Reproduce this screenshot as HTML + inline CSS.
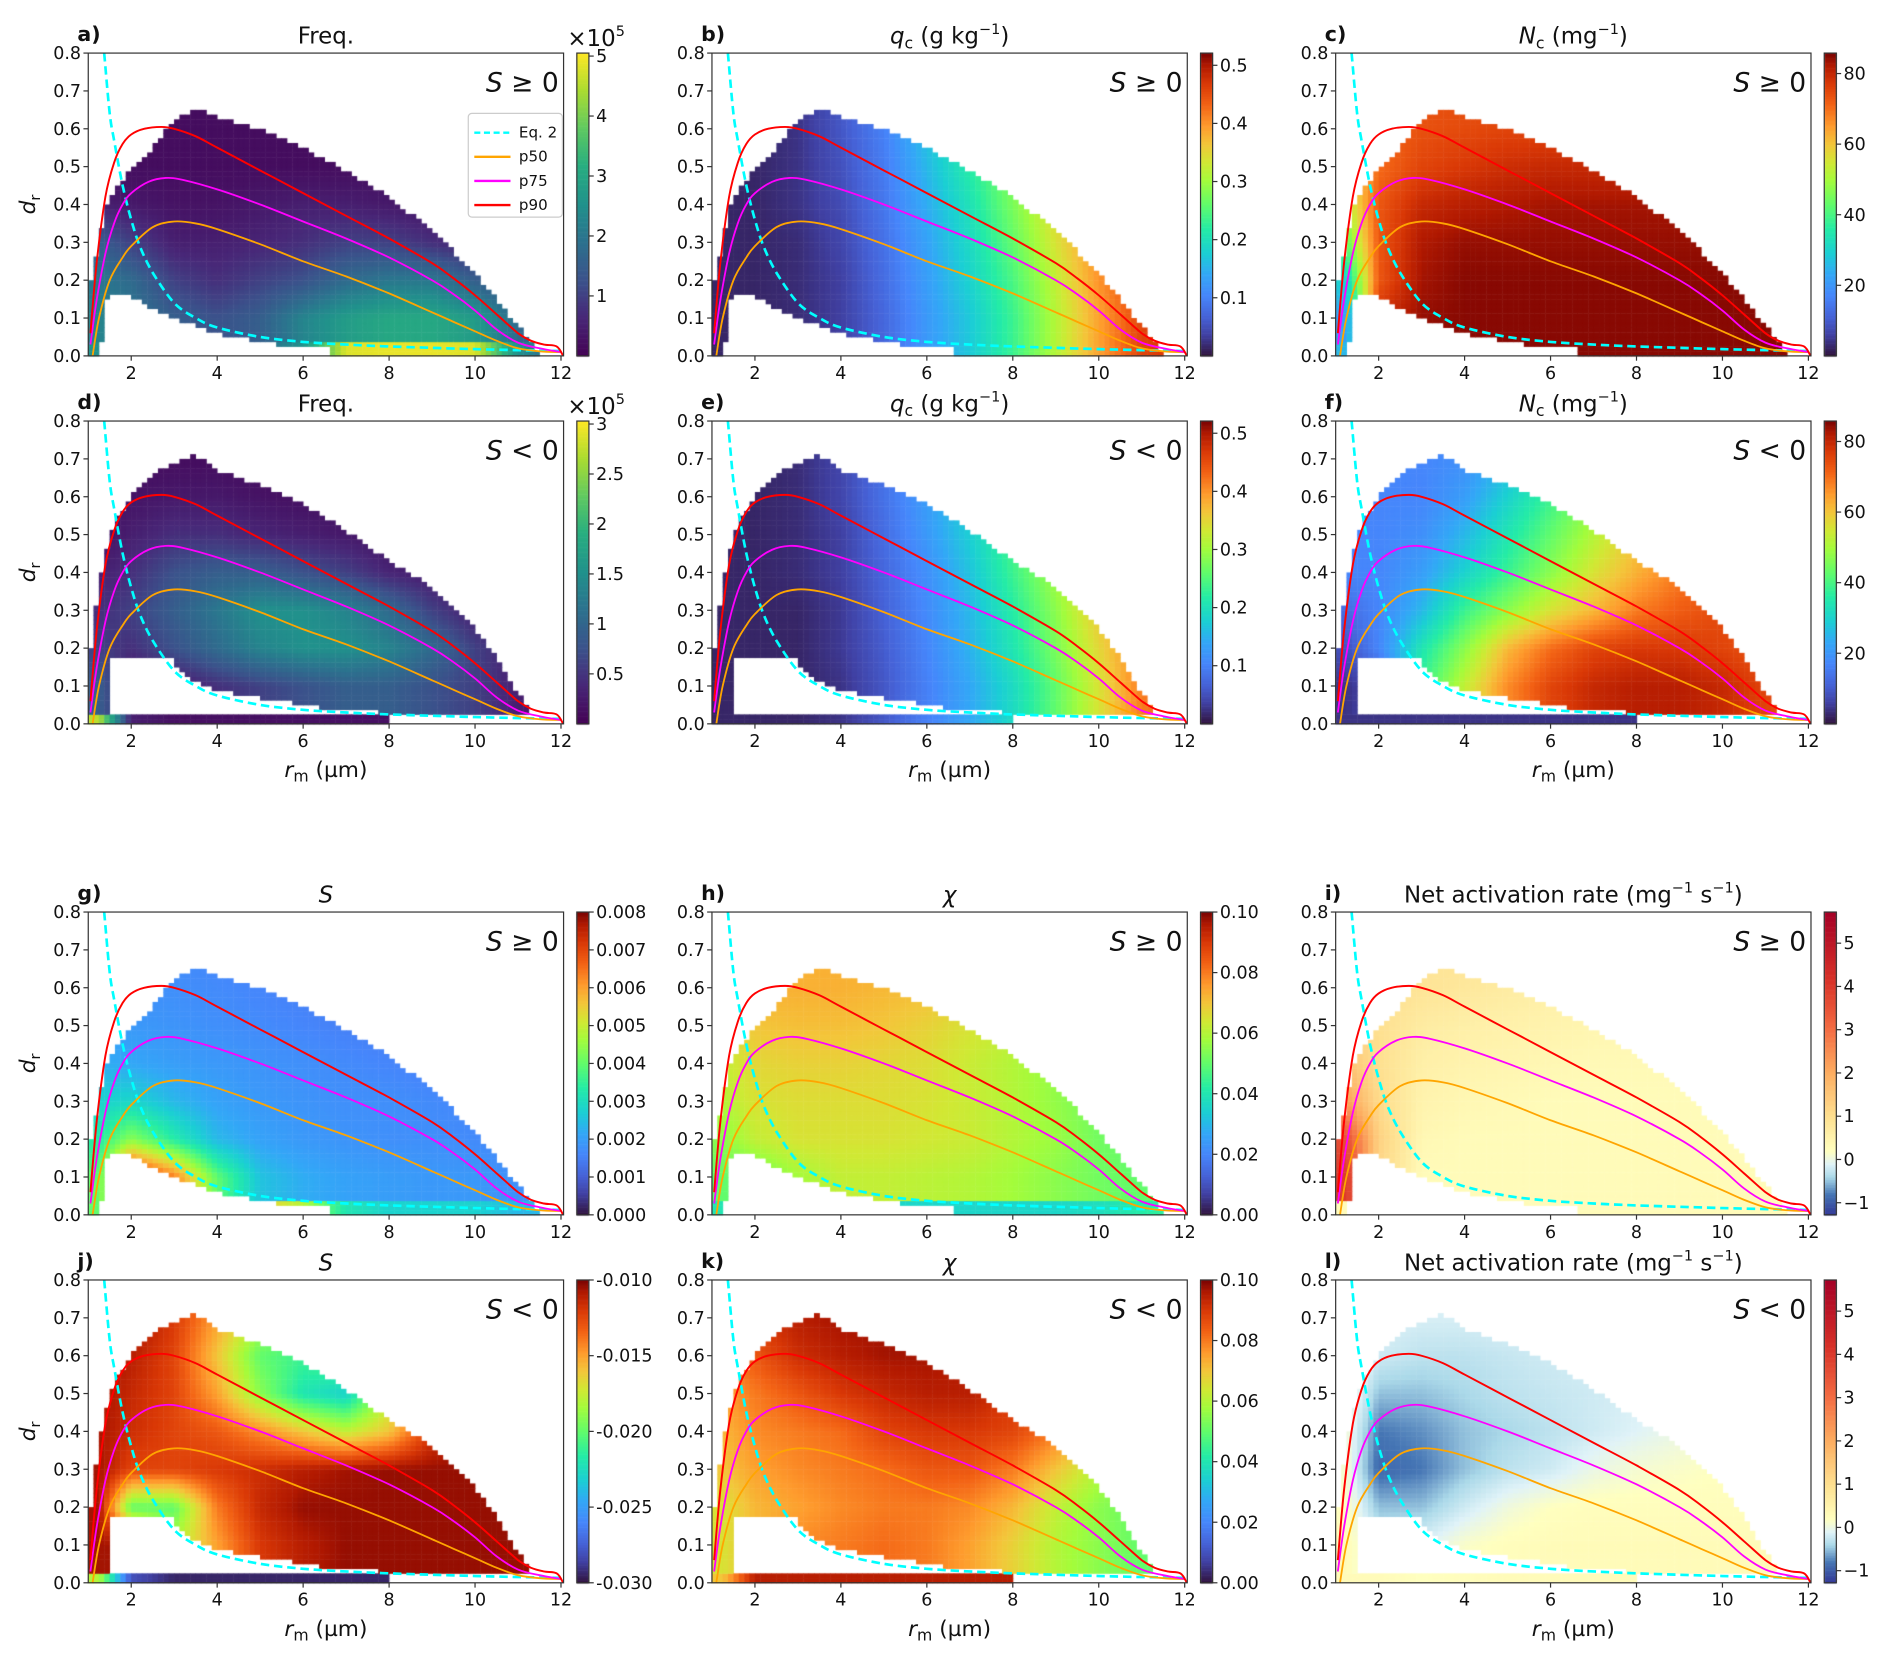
<!DOCTYPE html>
<html><head><meta charset="utf-8">
<style>
html,body{margin:0;padding:0;background:#fff;}
#wrap{position:relative;width:1892px;height:1660px;overflow:hidden;}
#heat{position:absolute;left:0;top:0;}
#fig{position:absolute;left:0;top:0;}
text{font-family:"DejaVu Sans","Liberation Sans",sans-serif;fill:#111;}
</style></head>
<body>
<div id="wrap">
<canvas id="heat" width="1892" height="1660"></canvas>
<svg id="fig" width="1892" height="1660" viewBox="0 0 1568 1376" xmlns="http://www.w3.org/2000/svg"></svg>
</div>
<script>
// ---------- data ----------
const gridX=[1.25,2,3,4,5,6,7,8,9,10,11,12];
const gridY=[0.02,0.1,0.2,0.3,0.4,0.5,0.6,0.7];
const xTicks=[2,4,6,8,10,12];
const yTicks=[0,0.1,0.2,0.3,0.4,0.5,0.6,0.7,0.8];
// domain shapes
const domPosX=[1.0,1.1,1.25,1.35,1.5,1.7,2,2.5,3,3.5,4,5,6,7,8,9,10,10.5,11,11.4,11.6];
const domPosHi=[0.2,0.21,0.3,0.37,0.42,0.45,0.49,0.55,0.62,0.655,0.63,0.6,0.55,0.49,0.42,0.33,0.22,0.15,0.08,0.02,0.0];
const domPosLoX=[1.0,1.3,1.35,1.5,2,2.3,2.6,3,3.5,4,4.5,5,5.5,6,6.6,6.7,12];
const domPosLo=[0,0,0.14,0.16,0.16,0.14,0.12,0.1,0.08,0.06,0.05,0.04,0.03,0.02,0.02,0,0];
const domNegX=[1.0,1.2,1.4,1.6,2,2.5,3,3.5,4,5,6,7,8,9,10,10.5,11,11.4,11.6];
const domNegHi=[0.15,0.33,0.45,0.53,0.6,0.66,0.69,0.71,0.67,0.63,0.58,0.51,0.43,0.36,0.25,0.18,0.08,0.01,0];
const domNegLoX=[1.0,1.44,1.45,2.9,3,3.5,4,5,6,7,8,9,10,11,12];
const domNegLo=[0,0,0.18,0.18,0.16,0.11,0.09,0.07,0.05,0.035,0.03,0.025,0.02,0.02,0.02];
const stripNeg=[1.0,8.0];
// percentile curves
const p90X=[1.05,1.2,1.4,1.6,1.8,2,2.3,2.7,3,3.5,4,5,6,7,8,9,9.5,10,10.5,11,11.3,11.6,11.9,12.05];
const p90Y=[0.06,0.25,0.42,0.51,0.56,0.585,0.6,0.605,0.6,0.58,0.55,0.49,0.43,0.37,0.31,0.245,0.205,0.16,0.11,0.06,0.04,0.03,0.025,0.0];
const p75X=[1.05,1.2,1.4,1.6,1.8,2,2.4,2.8,3.2,4,5,6,7,8,9,9.5,10,10.5,11,11.5,12];
const p75Y=[0.03,0.15,0.27,0.35,0.4,0.43,0.46,0.47,0.465,0.44,0.4,0.355,0.31,0.26,0.2,0.163,0.12,0.07,0.035,0.02,0.01];
const p50X=[1.1,1.25,1.5,1.8,2,2.5,3,3.5,4,5,6,7,8,9,9.5,10,10.5,11,11.5,12];
const p50Y=[0,0.1,0.2,0.26,0.29,0.34,0.355,0.35,0.335,0.295,0.25,0.21,0.165,0.115,0.09,0.065,0.04,0.02,0.012,0.01];
const eq2X=[1.37,1.5,1.6,1.8,2,2.2,2.5,3,3.5,4,5,6,7,8,10,12];
const eq2Y=[0.8,0.64,0.57,0.45,0.36,0.29,0.22,0.14,0.1,0.075,0.05,0.037,0.03,0.025,0.018,0.013];
// panel value grids (row0 = bottom strip, rows 1..7 at gridY)
const valA=[[0.5,0.4,0.35,0.3,0.35,0.5,0.95,0.97,0.97,0.95,0.5,0.3],[0.45,0.4,0.3,0.25,0.3,0.45,0.55,0.6,0.6,0.55,0.35,0.2],[0.4,0.35,0.2,0.15,0.2,0.25,0.35,0.4,0.4,0.3,0.2,0.1],[0.3,0.2,0.1,0.1,0.12,0.15,0.2,0.2,0.15,0.1,0.1,0.1],[0.1,0.08,0.06,0.06,0.08,0.1,0.1,0.08,0.06,0.05,0.05,0.05],[0.04,0.04,0.04,0.04,0.04,0.04,0.04,0.04,0.04,0.04,0.04,0.04],[0.04,0.04,0.04,0.04,0.04,0.04,0.04,0.04,0.04,0.04,0.04,0.04],[0.04,0.04,0.04,0.04,0.04,0.04,0.04,0.04,0.04,0.04,0.04,0.04]];
const valD=[[0.9,0.1,0.05,0.05,0.05,0.05,0.05,0.05,0.05,0.05,0.05,0.05],[0.3,0.05,0.08,0.15,0.2,0.25,0.3,0.3,0.25,0.2,0.1,0.05],[0.2,0.15,0.25,0.35,0.45,0.5,0.5,0.45,0.35,0.2,0.1,0.05],[0.15,0.2,0.3,0.4,0.5,0.5,0.45,0.35,0.2,0.1,0.05,0.05],[0.1,0.15,0.25,0.3,0.3,0.25,0.2,0.12,0.08,0.05,0.05,0.05],[0.05,0.1,0.15,0.15,0.12,0.1,0.08,0.05,0.05,0.05,0.05,0.05],[0.05,0.06,0.08,0.08,0.06,0.05,0.05,0.05,0.05,0.05,0.05,0.05],[0.04,0.04,0.04,0.04,0.04,0.04,0.04,0.04,0.04,0.04,0.04,0.04]];
const valB=[[0.03,0.03,0.04,0.07,0.14,0.24,0.33,0.45,0.6,0.75,0.88,0.92],[0.03,0.03,0.04,0.07,0.14,0.24,0.33,0.45,0.6,0.75,0.88,0.92],[0.03,0.03,0.04,0.07,0.15,0.25,0.35,0.47,0.62,0.77,0.88,0.92],[0.03,0.03,0.04,0.08,0.16,0.26,0.37,0.5,0.65,0.78,0.88,0.92],[0.03,0.03,0.05,0.09,0.17,0.28,0.39,0.53,0.67,0.8,0.88,0.92],[0.03,0.03,0.05,0.1,0.18,0.3,0.42,0.55,0.7,0.8,0.88,0.92],[0.03,0.03,0.05,0.11,0.19,0.32,0.44,0.58,0.7,0.8,0.88,0.92],[0.03,0.03,0.05,0.11,0.2,0.32,0.44,0.58,0.7,0.8,0.88,0.92]];
const valE=[[0.03,0.03,0.03,0.05,0.11,0.19,0.27,0.37,0.5,0.65,0.8,0.85],[0.03,0.03,0.03,0.05,0.11,0.19,0.27,0.37,0.5,0.65,0.8,0.85],[0.03,0.03,0.03,0.06,0.12,0.2,0.29,0.4,0.53,0.67,0.8,0.85],[0.03,0.03,0.03,0.06,0.13,0.21,0.3,0.42,0.55,0.7,0.8,0.85],[0.03,0.03,0.04,0.07,0.14,0.22,0.32,0.45,0.58,0.7,0.8,0.85],[0.03,0.03,0.04,0.07,0.15,0.24,0.34,0.47,0.6,0.7,0.8,0.85],[0.03,0.03,0.04,0.08,0.16,0.25,0.35,0.48,0.6,0.7,0.8,0.85],[0.03,0.03,0.04,0.08,0.16,0.25,0.35,0.48,0.6,0.7,0.8,0.85]];
const valC=[[0.3,0.98,0.99,0.99,0.99,0.99,0.99,0.99,0.99,0.99,0.99,0.99],[0.25,0.92,0.98,0.99,0.99,0.99,0.99,0.99,0.99,0.99,0.99,0.99],[0.35,0.85,0.97,0.99,0.99,0.99,0.99,0.99,0.99,0.99,0.99,0.99],[0.5,0.85,0.96,0.98,0.98,0.98,0.98,0.98,0.98,0.98,0.98,0.98],[0.6,0.85,0.93,0.95,0.96,0.97,0.97,0.97,0.97,0.97,0.97,0.97],[0.65,0.82,0.88,0.9,0.92,0.93,0.93,0.93,0.93,0.93,0.93,0.93],[0.8,0.82,0.86,0.87,0.88,0.88,0.88,0.88,0.88,0.88,0.88,0.88],[0.85,0.86,0.86,0.86,0.86,0.86,0.86,0.86,0.86,0.86,0.86,0.86]];
const valF=[[0.05,0.05,0.05,0.05,0.05,0.05,0.05,0.05,0.95,0.93,0.9,0.85],[0.05,0.1,0.45,0.62,0.78,0.88,0.93,0.95,0.95,0.93,0.88,0.85],[0.1,0.2,0.4,0.55,0.72,0.82,0.88,0.9,0.9,0.88,0.85,0.85],[0.15,0.2,0.3,0.45,0.55,0.65,0.72,0.8,0.84,0.87,0.85,0.85],[0.2,0.2,0.25,0.35,0.45,0.55,0.65,0.73,0.8,0.82,0.82,0.82],[0.2,0.2,0.22,0.3,0.4,0.5,0.6,0.7,0.75,0.8,0.8,0.8],[0.2,0.2,0.2,0.25,0.35,0.45,0.55,0.65,0.7,0.75,0.8,0.8],[0.2,0.2,0.2,0.22,0.3,0.4,0.5,0.6,0.7,0.75,0.8,0.8]];
const valG=[[0.5,0.9,0.95,0.8,0.7,0.6,0.4,0.35,0.35,0.35,0.3,0.3],[0.5,0.97,0.8,0.5,0.32,0.28,0.26,0.25,0.24,0.24,0.22,0.22],[0.42,0.55,0.42,0.3,0.26,0.24,0.23,0.22,0.22,0.21,0.2,0.2],[0.35,0.36,0.3,0.26,0.24,0.23,0.22,0.22,0.21,0.2,0.19,0.19],[0.28,0.27,0.25,0.24,0.23,0.22,0.21,0.2,0.19,0.18,0.18,0.18],[0.25,0.24,0.23,0.22,0.21,0.2,0.19,0.18,0.18,0.18,0.18,0.18],[0.23,0.22,0.22,0.21,0.2,0.19,0.18,0.18,0.18,0.18,0.18,0.18],[0.22,0.22,0.21,0.2,0.19,0.18,0.18,0.18,0.18,0.18,0.18,0.18]];
const valH=[[0.4,0.42,0.4,0.38,0.36,0.36,0.36,0.36,0.36,0.38,0.42,0.45],[0.5,0.5,0.58,0.62,0.62,0.61,0.6,0.58,0.55,0.52,0.5,0.5],[0.55,0.62,0.65,0.65,0.65,0.64,0.63,0.6,0.57,0.52,0.5,0.5],[0.6,0.65,0.66,0.66,0.66,0.65,0.63,0.6,0.56,0.52,0.5,0.5],[0.62,0.67,0.68,0.68,0.67,0.66,0.63,0.6,0.56,0.52,0.5,0.5],[0.66,0.7,0.71,0.71,0.7,0.68,0.65,0.62,0.58,0.55,0.5,0.5],[0.72,0.73,0.73,0.73,0.72,0.71,0.69,0.66,0.6,0.55,0.5,0.5],[0.73,0.73,0.73,0.73,0.73,0.72,0.7,0.68,0.6,0.55,0.5,0.5]];
const valI=[[0.3,0.3,0.3,0.3,0.3,0.3,0.3,0.3,0.3,0.3,0.3,0.3],[4,1.2,0.3,0.3,0.3,0.3,0.3,0.3,0.3,0.3,0.3,0.3],[3.6,1.3,0.4,0.3,0.3,0.3,0.3,0.3,0.3,0.3,0.3,0.3],[2.2,1.1,0.5,0.4,0.35,0.3,0.3,0.3,0.3,0.3,0.3,0.3],[1.6,1.0,0.6,0.5,0.45,0.4,0.35,0.35,0.35,0.3,0.3,0.3],[1.3,1.0,0.7,0.6,0.55,0.5,0.45,0.4,0.4,0.4,0.4,0.4],[1.2,1.0,0.9,0.8,0.7,0.6,0.55,0.5,0.5,0.5,0.5,0.5],[1.2,1.0,0.9,0.9,0.8,0.7,0.6,0.5,0.5,0.5,0.5,0.5]];
const valJ=[[0.6,0.1,0.03,0.03,0.03,0.03,0.03,0.03,0.1,0.5,0.9,0.9],[0.97,0.97,0.6,0.75,0.9,0.95,0.98,0.98,0.98,0.98,0.98,0.98],[0.97,0.5,0.5,0.8,0.93,0.98,0.98,0.98,0.98,0.98,0.98,0.98],[0.97,0.88,0.88,0.9,0.92,0.95,0.97,0.98,0.98,0.98,0.98,0.98],[0.97,0.92,0.88,0.85,0.78,0.7,0.62,0.7,0.9,0.97,0.97,0.97],[0.97,0.93,0.88,0.75,0.55,0.4,0.35,0.6,0.9,0.97,0.97,0.97],[0.98,0.95,0.88,0.7,0.5,0.45,0.5,0.7,0.9,0.97,0.97,0.97],[0.98,0.98,0.9,0.75,0.6,0.6,0.65,0.75,0.9,0.97,0.97,0.97]];
const valK=[[0.7,0.95,0.95,0.95,0.95,0.95,0.95,0.95,0.5,0.55,0.8,0.6],[0.65,0.72,0.78,0.8,0.82,0.8,0.75,0.68,0.6,0.55,0.5,0.5],[0.65,0.72,0.75,0.78,0.8,0.8,0.78,0.72,0.62,0.55,0.5,0.5],[0.7,0.75,0.78,0.8,0.82,0.85,0.85,0.8,0.7,0.6,0.55,0.55],[0.72,0.78,0.8,0.82,0.88,0.9,0.9,0.88,0.8,0.7,0.6,0.6],[0.75,0.8,0.85,0.9,0.93,0.95,0.95,0.9,0.85,0.75,0.7,0.7],[0.8,0.85,0.92,0.95,0.97,0.97,0.95,0.9,0.85,0.8,0.8,0.8],[0.85,0.9,0.95,0.97,0.97,0.97,0.95,0.9,0.85,0.8,0.8,0.8]];
const valL=[[0.3,0.3,0.2,0.25,0.3,0.3,0.3,0.3,0.3,0.3,0.3,0.3],[0.3,-0.2,-0.1,0.15,0.25,0.3,0.3,0.3,0.3,0.3,0.3,0.3],[0.2,-0.5,-0.5,-0.2,0.05,0.2,0.25,0.25,0.25,0.25,0.25,0.25],[0.1,-0.9,-0.8,-0.5,-0.3,-0.2,0,0.1,0.15,0.2,0.2,0.2],[0.1,-0.8,-0.7,-0.5,-0.4,-0.3,-0.2,-0.1,0,0.1,0.1,0.1],[0.2,-0.5,-0.5,-0.4,-0.3,-0.25,-0.2,-0.15,-0.1,0,0,0],[0.3,-0.2,-0.3,-0.3,-0.25,-0.2,-0.15,-0.1,-0.05,0,0,0],[0.3,-0.1,-0.15,-0.15,-0.1,-0.05,0,0,0,0,0,0]];
// colorbar ticks
const cbTicksA=[1,2,3,4,5], cbTicksD=[0.5,1,1.5,2,2.5,3], cbTicksQ=[0.1,0.2,0.3,0.4,0.5], cbTicksN=[20,40,60,80];
const cbTicksS=[0,0.001,0.002,0.003,0.004,0.005,0.006,0.007,0.008], cbTicksChi=[0,0.02,0.04,0.06,0.08,0.1];
const cbTicksSn=[-0.03,-0.025,-0.02,-0.015,-0.01], cbTicksAct=[-1,0,1,2,3,4,5];
// ---------- colormaps ----------
const VIR=[[0,'#440154'],[0.13,'#482878'],[0.25,'#3b528b'],[0.38,'#2c728e'],[0.5,'#21918c'],[0.63,'#28ae80'],[0.75,'#5ec962'],[0.88,'#addc30'],[1,'#fde725']];
const TUR=[[0,'#30123b'],[0.07,'#4040a2'],[0.13,'#4662d7'],[0.2,'#4686fb'],[0.27,'#33a7f7'],[0.34,'#1bcfd4'],[0.42,'#24eca6'],[0.5,'#61fc6c'],[0.58,'#a4fc3b'],[0.64,'#d1e834'],[0.7,'#f3c63a'],[0.76,'#fe9b2d'],[0.83,'#f36315'],[0.9,'#d93806'],[0.96,'#b11901'],[1,'#7a0403']];
const DIV=[[-1.28,'#313695'],[-0.8,'#4575b4'],[-0.4,'#abd9e9'],[-0.1,'#e0f3f8'],[0.2,'#ffffbf'],[1,'#fee090'],[2,'#fdae61'],[3,'#f46d43'],[4.2,'#d73027'],[5.72,'#a50026']];
function hx(c){return [parseInt(c.slice(1,3),16),parseInt(c.slice(3,5),16),parseInt(c.slice(5,7),16)];}
function cmap(st,v){if(v<=st[0][0])return hx(st[0][1]);for(let i=1;i<st.length;i++){if(v<=st[i][0]){const a=hx(st[i-1][1]),b=hx(st[i][1]),f=(v-st[i-1][0])/(st[i][0]-st[i-1][0]);return a.map((q,k)=>Math.round(q+(b[k]-q)*f));}}return hx(st[st.length-1][1]);}
function lin(xs,ys,x){if(x<=xs[0])return ys[0];for(let i=1;i<xs.length;i++){if(x<=xs[i]){const f=(x-xs[i-1])/(xs[i]-xs[i-1]||1);return ys[i-1]+(ys[i]-ys[i-1])*f;}}return ys[ys.length-1];}
function bil(g,x,y){const ys=gridY.slice(1);const row=ys.map((_,r)=>lin(gridX,g[r+1],x));return lin(ys,row,y);}
// ---------- layout ----------
const colX=[73,590,1107], rowY=[44,349,756,1061], AW=394, AH=251, XMIN=1, XMAX=12.06, YMAX=0.8;
const panels=[
 {id:'a',r:0,c:0,g:valA,cm:VIR,lo:0,hi:5.05,pos:true,title:'Freq.',cbt:cbTicksA,fmt:v=>String(v),mult:true},
 {id:'b',r:0,c:1,g:valB,cm:TUR,lo:0,hi:0.521,pos:true,title:'qc',cbt:cbTicksQ,fmt:v=>v.toFixed(1)},
 {id:'c',r:0,c:2,g:valC,cm:TUR,lo:0,hi:85.8,pos:true,title:'Nc',cbt:cbTicksN,fmt:v=>String(v)},
 {id:'d',r:1,c:0,g:valD,cm:VIR,lo:0,hi:3.03,pos:false,title:'Freq.',cbt:cbTicksD,fmt:v=>String(v),mult:true},
 {id:'e',r:1,c:1,g:valE,cm:TUR,lo:0,hi:0.521,pos:false,title:'qc',cbt:cbTicksQ,fmt:v=>v.toFixed(1)},
 {id:'f',r:1,c:2,g:valF,cm:TUR,lo:0,hi:85.8,pos:false,title:'Nc',cbt:cbTicksN,fmt:v=>String(v)},
 {id:'g',r:2,c:0,g:valG,cm:TUR,lo:0,hi:0.008,pos:true,title:'S',cbt:cbTicksS,fmt:v=>v.toFixed(3)},
 {id:'h',r:2,c:1,g:valH,cm:TUR,lo:0,hi:0.1,pos:true,title:'chi',cbt:cbTicksChi,fmt:v=>v.toFixed(2)},
 {id:'i',r:2,c:2,g:valI,cm:DIV,lo:-1.28,hi:5.72,pos:true,title:'act',cbt:cbTicksAct,fmt:v=>v<0?'\u2212'+(-v):String(v),div:true},
 {id:'j',r:3,c:0,g:valJ,cm:TUR,lo:-0.03,hi:-0.01,pos:false,title:'S',cbt:cbTicksSn,fmt:v=>v.toFixed(3)},
 {id:'k',r:3,c:1,g:valK,cm:TUR,lo:0,hi:0.1,pos:false,title:'chi',cbt:cbTicksChi,fmt:v=>v.toFixed(2)},
 {id:'l',r:3,c:2,g:valL,cm:DIV,lo:-1.28,hi:5.72,pos:false,title:'act',cbt:cbTicksAct,fmt:v=>v<0?'\u2212'+(-v):String(v),div:true}
];
const NS='http://www.w3.org/2000/svg';
const svg=document.getElementById('fig');
function mk(tag,parent){const e=document.createElementNS(NS,tag);(parent||svg).appendChild(e);return e;}
function at(e,o){for(const k in o)e.setAttribute(k,o[k]);return e;}
// ---------- heatmaps ----------
const ctx=document.getElementById('heat').getContext('2d');
ctx.scale(1892/1568,1660/1376);
const DX=0.125, DY=0.0125;
panels.forEach(p=>{
 const x0=colX[p.c], y0=rowY[p.r];
 const X=v=>x0+(v-XMIN)/(XMAX-XMIN)*AW, Y=v=>y0+AH-v/YMAX*AH;
 const stripTop=p.pos?0.035:0.02;
 for(let xv=1.0;xv<12.0;xv+=DX){
  const xc=xv+DX/2;
  const hiB=p.pos?lin(domPosX,domPosHi,xc):lin(domNegX,domNegHi,xc);
  const loB=p.pos?lin(domPosLoX,domPosLo,xc):lin(domNegLoX,domNegLo,xc);
  for(let yv=0;yv<0.8;yv+=DY){
   const yc=yv+DY/2;
   let inside=yc<hiB&&yc>=loB;
   if(!p.pos&&yc<0.02&&xc>=stripNeg[0]&&xc<=stripNeg[1])inside=true;
   if(!inside)continue;
   const v=yc<stripTop?lin(gridX,p.g[0],xc):bil(p.g,xc,yc);
   const c=cmap(p.cm,v);
   ctx.fillStyle='rgb('+c.join(',')+')';
   const px=X(xv),py=Y(yv+DY);
   ctx.fillRect(px,py,X(xv+DX)-px+0.4,Y(yv)-py+0.4);
  }
 }
 const cx=x0+405, N=120;
 for(let i=0;i<N;i++){
  const f=(i+0.5)/N;
  const c=p.div?cmap(p.cm,p.lo+(p.hi-p.lo)*f):cmap(p.cm,f);
  ctx.fillStyle='rgb('+c.join(',')+')';
  ctx.fillRect(cx,y0+AH-(i+1)*AH/N,10,AH/N+0.5);
 }
});
// ---------- SVG overlay ----------
function sub(parent,x,y,parts,size,anchor){const t=mk('text',parent);at(t,{x:x,y:y,'font-size':size,'text-anchor':anchor||'middle'});
 parts.forEach(pt=>{const s=mk('tspan',t);s.textContent=pt[0];if(pt[1])at(s,pt[1]);});return t;}
function smooth(pts){let d='M'+pts[0][0].toFixed(1)+','+pts[0][1].toFixed(1);
 for(let i=0;i<pts.length-1;i++){const p0=pts[Math.max(0,i-1)],p1=pts[i],p2=pts[i+1],p3=pts[Math.min(pts.length-1,i+2)];
  const c1=[p1[0]+(p2[0]-p0[0])/6,p1[1]+(p2[1]-p0[1])/6],c2=[p2[0]-(p3[0]-p1[0])/6,p2[1]-(p3[1]-p1[1])/6];
  d+=' C'+c1.map(v=>v.toFixed(1)).join(',')+' '+c2.map(v=>v.toFixed(1)).join(',')+' '+p2[0].toFixed(1)+','+p2[1].toFixed(1);}
 return d;}
panels.forEach(p=>{
 const x0=colX[p.c], y0=rowY[p.r];
 const X=v=>x0+(v-XMIN)/(XMAX-XMIN)*AW, Y=v=>y0+AH-v/YMAX*AH;
 const g=mk('g');
 
 
 const lines=[[eq2X,eq2Y,'#00ffff',2.2,'7,4','eq2-line'],[p50X,p50Y,'#ffa500',1.5,null,'p50-line'],[p75X,p75Y,'#ff00ff',1.5,null,'p75-line'],[p90X,p90Y,'#ff0000',1.6,null,'p90-line']];
 lines.forEach(L=>{
  const pl=mk('path',g);
  
  
  at(pl,{d:smooth(L[0].map((xv,i)=>[X(xv),Y(L[1][i])])),fill:'none',stroke:L[2],'stroke-width':L[3],'stroke-linejoin':'round'});
  if(L[4])pl.setAttribute('stroke-dasharray',L[4]);
 });
 const fr=mk('rect',g);
 
 
 at(fr,{x:x0,y:y0,width:AW,height:AH,fill:'none',stroke:'#333','stroke-width':1});
 xTicks.forEach(t=>{
  const l=mk('line',g);at(l,{x1:X(t),x2:X(t),y1:y0+AH,y2:y0+AH+4,stroke:'#333'});
  const tx=mk('text',g);
  at(tx,{x:X(t),y:y0+AH+19,'font-size':14.5,'text-anchor':'middle'});tx.textContent=t;
 });
 yTicks.forEach(t=>{
  const l=mk('line',g);at(l,{x1:x0-4,x2:x0,y1:Y(t),y2:Y(t),stroke:'#333'});
  const tx=mk('text',g);
  at(tx,{x:x0-6,y:Y(t)+5,'font-size':14.5,'text-anchor':'end'});tx.textContent=t.toFixed(1);
 });
 const cx=x0+405;
 const cb=mk('rect',g);
 at(cb,{x:cx,y:y0,width:10,height:AH,fill:'none',stroke:'#333','stroke-width':1});
 p.cbt.forEach(t=>{
  const yy=y0+AH-(t-p.lo)/(p.hi-p.lo)*AH;
  const l=mk('line',g);at(l,{x1:cx+10,x2:cx+14,y1:yy,y2:yy,stroke:'#333'});
  const tx=mk('text',g);
  at(tx,{x:cx+16,y:yy+5,'font-size':14.5,'text-anchor':'start'});tx.textContent=p.fmt(t);
 });
 if(p.mult){sub(g,cx+16,y0-6,[['\u00d710'],['5',{dy:-8,'font-size':12}]],19,'middle');}
 const lb=mk('text',g);
 at(lb,{x:x0-9,y:y0-10,'font-size':17,'font-weight':'bold','text-anchor':'start'});lb.textContent=p.id+')';
 const tcx=x0+AW/2, ty=y0-8;
 let tt;
 if(p.title==='Freq.'){tt=sub(g,tcx,ty,[['Freq.']],19);}
 else if(p.title==='qc'){tt=sub(g,tcx,ty,[['q',{'font-style':'italic'}],['c',{dy:4,'font-size':13}],[' (g kg',{dy:-4}],['\u22121',{dy:-8,'font-size':12}],[')',{dy:8}]],19);}
 else if(p.title==='Nc'){tt=sub(g,tcx,ty,[['N',{'font-style':'italic'}],['c',{dy:4,'font-size':13}],[' (mg',{dy:-4}],['\u22121',{dy:-8,'font-size':12}],[')',{dy:8}]],19);}
 else if(p.title==='S'){tt=sub(g,tcx,ty,[['S',{'font-style':'italic'}]],19);}
 else if(p.title==='chi'){tt=sub(g,tcx,ty,[['\u03c7',{'font-style':'italic'}]],19);}
 else {tt=sub(g,tcx,ty,[['Net activation rate (mg'],['\u22121',{dy:-8,'font-size':12}],[' s',{dy:8}],['\u22121',{dy:-8,'font-size':12}],[')',{dy:8}]],19);}
 
 
 const sc=sub(g,x0+AW-4,y0+32,[['S',{'font-style':'italic'}],[p.pos?' \u2265 0':' < 0']],22,'end');
 
 
 if(p.c===0){
  const yl=sub(g,0,0,[['d',{'font-style':'italic'}],['r',{dy:4,'font-size':12}]],18);
  at(yl,{transform:'translate('+(x0-44)+','+(y0+AH/2)+') rotate(-90)'});
  
  
 }
 if(p.r===1||p.r===3){
  const xl=sub(g,x0+AW/2,y0+AH+44,[['r',{'font-style':'italic'}],['m',{dy:4,'font-size':13}],[' (\u00b5m)',{dy:-4}]],18);
  
  
 }
});
(function(){
 const lg=mk('g');
 
 
 const bx=mk('rect',lg);at(bx,{x:388,y:94,width:78,height:86,rx:3,fill:'#fff','fill-opacity':0.85,stroke:'#ccc'});
 const items=[['Eq. 2','#00ffff','5,3'],['p50','#ffa500',null],['p75','#ff00ff',null],['p90','#ff0000',null]];
 items.forEach((it,i)=>{
  const y=110+i*20;
  const l=mk('line',lg);
  
  
  at(l,{x1:393,x2:423,y1:y,y2:y,stroke:it[1],'stroke-width':2});
  if(it[2])l.setAttribute('stroke-dasharray',it[2]);
  const t=mk('text',lg);at(t,{x:430,y:y+4,'font-size':12.5,'text-anchor':'start'});t.textContent=it[0];
 });
})();
</script>
</body></html>
